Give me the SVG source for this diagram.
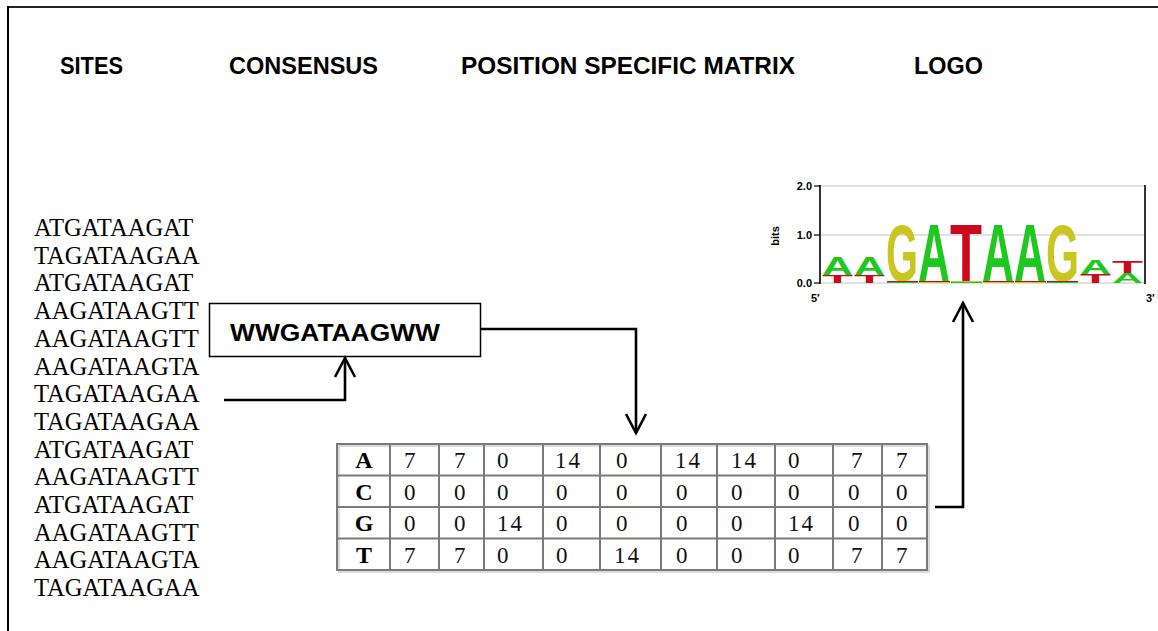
<svg xmlns="http://www.w3.org/2000/svg" width="1158" height="631" viewBox="0 0 1158 631">
<style>
.hdr{font-family:"Liberation Sans",Arial,sans-serif;font-weight:bold;font-size:23px;fill:#000}
.site{font-family:"Liberation Serif","Times New Roman",serif;font-size:24.6px;fill:#000}
.cons{font-family:"Liberation Sans",Arial,sans-serif;font-weight:bold;font-size:24px;fill:#000}
.conn{fill:none;stroke:#000;stroke-width:2.6}
.tline{stroke:#7a7a7a;stroke-width:2;fill:none}
.tshadow{stroke:#d0d0d0;stroke-width:1.5;fill:none}
.rowh{font-family:"Liberation Serif","Times New Roman",serif;font-weight:bold;font-size:24px;fill:#000;text-anchor:middle}
.num{font-family:"Liberation Serif","Times New Roman",serif;font-size:23px;fill:#111;letter-spacing:2px}
.ax{font-family:"Liberation Sans",Arial,sans-serif;font-weight:bold;font-size:11px;fill:#000}
.lg{font-family:"Liberation Sans",Arial,sans-serif;font-weight:bold}
.gA{fill:#1ec81e}.gG{fill:#c9c61f}.gT{fill:#cc0a1e}
.grid{stroke:#c4c4c4;stroke-width:1.2}
</style>
<defs>
<marker id="arr" markerUnits="userSpaceOnUse" markerWidth="40" markerHeight="40" refX="0" refY="0" orient="auto" overflow="visible">
<path d="M-19,-10 L0,0 L-19,10" fill="none" stroke="#000" stroke-width="2.6"/>
</marker>
</defs>
<rect x="0" y="0" width="1158" height="631" fill="#fff"/>
<g id="frame">
<line x1="8" y1="7" x2="1158" y2="7" stroke="#222" stroke-width="2.2"/>
<line x1="8" y1="6" x2="8" y2="631" stroke="#000" stroke-width="2"/>
</g>
<g id="headers">
<text class="hdr" x="60" y="74" textLength="63" lengthAdjust="spacingAndGlyphs">SITES</text>
<text class="hdr" x="229" y="74" textLength="149" lengthAdjust="spacingAndGlyphs">CONSENSUS</text>
<text class="hdr" x="461" y="74" textLength="334" lengthAdjust="spacingAndGlyphs">POSITION SPECIFIC MATRIX</text>
<text class="hdr" x="914" y="74" textLength="69" lengthAdjust="spacingAndGlyphs">LOGO</text>
</g>
<g id="sites">
<text class="site" x="34" y="236">ATGATAAGAT</text>
<text class="site" x="34" y="263.7">TAGATAAGAA</text>
<text class="site" x="34" y="291.4">ATGATAAGAT</text>
<text class="site" x="34" y="319.1">AAGATAAGTT</text>
<text class="site" x="34" y="346.8">AAGATAAGTT</text>
<text class="site" x="34" y="374.5">AAGATAAGTA</text>
<text class="site" x="34" y="402.1">TAGATAAGAA</text>
<text class="site" x="34" y="429.8">TAGATAAGAA</text>
<text class="site" x="34" y="457.5">ATGATAAGAT</text>
<text class="site" x="34" y="485.2">AAGATAAGTT</text>
<text class="site" x="34" y="512.9">ATGATAAGAT</text>
<text class="site" x="34" y="540.6">AAGATAAGTT</text>
<text class="site" x="34" y="568.3">AAGATAAGTA</text>
<text class="site" x="34" y="596">TAGATAAGAA</text>
</g>
<g id="consensus">
<rect x="209.5" y="303.5" width="271" height="53" fill="#fff" stroke="#000" stroke-width="1.5"/>
<text class="cons" x="230" y="341" textLength="210" lengthAdjust="spacingAndGlyphs">WWGATAAGWW</text>
</g>
<g id="matrix">
<rect x="339" y="446" width="590" height="126" class="tshadow"/>
<rect x="337" y="444" width="590" height="126" class="tline" fill="#fff"/>
<g class="tline">
<line x1="337" y1="475.5" x2="927" y2="475.5"/>
<line x1="337" y1="507" x2="927" y2="507"/>
<line x1="337" y1="538.5" x2="927" y2="538.5"/>
<line x1="390" y1="444" x2="390" y2="570"/>
<line x1="439" y1="444" x2="439" y2="570"/>
<line x1="484" y1="444" x2="484" y2="570"/>
<line x1="543" y1="444" x2="543" y2="570"/>
<line x1="600" y1="444" x2="600" y2="570"/>
<line x1="661" y1="444" x2="661" y2="570"/>
<line x1="717" y1="444" x2="717" y2="570"/>
<line x1="775" y1="444" x2="775" y2="570"/>
<line x1="833" y1="444" x2="833" y2="570"/>
<line x1="882" y1="444" x2="882" y2="570"/>
</g>
<text class="rowh" x="364" y="468">A</text>
<text class="rowh" x="364" y="499.5">C</text>
<text class="rowh" x="364" y="531">G</text>
<text class="rowh" x="364" y="562.5">T</text>
<g class="num">
<text x="404" y="468">7</text><text x="454" y="468">7</text><text x="497" y="468">0</text><text x="555" y="468">14</text><text x="616" y="468">0</text><text x="675" y="468">14</text><text x="731" y="468">14</text><text x="788" y="468">0</text><text x="851" y="468">7</text><text x="896" y="468">7</text>
<text x="404" y="499.5">0</text><text x="454" y="499.5">0</text><text x="497" y="499.5">0</text><text x="556" y="499.5">0</text><text x="616" y="499.5">0</text><text x="676" y="499.5">0</text><text x="731" y="499.5">0</text><text x="788" y="499.5">0</text><text x="848" y="499.5">0</text><text x="896" y="499.5">0</text>
<text x="404" y="531">0</text><text x="454" y="531">0</text><text x="497" y="531">14</text><text x="556" y="531">0</text><text x="616" y="531">0</text><text x="676" y="531">0</text><text x="731" y="531">0</text><text x="788" y="531">14</text><text x="848" y="531">0</text><text x="896" y="531">0</text>
<text x="404" y="562.5">7</text><text x="454" y="562.5">7</text><text x="497" y="562.5">0</text><text x="556" y="562.5">0</text><text x="614" y="562.5">14</text><text x="676" y="562.5">0</text><text x="731" y="562.5">0</text><text x="788" y="562.5">0</text><text x="851" y="562.5">7</text><text x="896" y="562.5">7</text>
</g>
</g>
<g id="logo">
<line class="grid" x1="820" y1="186" x2="1145" y2="186"/>
<line class="grid" x1="820" y1="235" x2="1145" y2="235"/>
<line class="grid" x1="820" y1="283" x2="1145" y2="283"/>
<line x1="820" y1="185" x2="820" y2="284" stroke="#000" stroke-width="1.6"/>
<line x1="1145" y1="185" x2="1145" y2="284" stroke="#000" stroke-width="1.6"/>
<line x1="814" y1="186" x2="820" y2="186" stroke="#000" stroke-width="1.2"/>
<line x1="814" y1="235" x2="820" y2="235" stroke="#000" stroke-width="1.2"/>
<line x1="814" y1="283" x2="820" y2="283" stroke="#000" stroke-width="1.2"/>
<text class="ax" x="812" y="190" text-anchor="end">2.0</text>
<text class="ax" x="812" y="239" text-anchor="end">1.0</text>
<text class="ax" x="812" y="287" text-anchor="end">0.0</text>
<text class="ax" x="0" y="0" text-anchor="middle" font-size="9.5" transform="translate(779,236) rotate(-90)">bits</text>
<text class="ax" x="811" y="302">5′</text>
<text class="ax" x="1146" y="302">3′</text>
<text class="lg gA" x="822" y="275" font-size="25.1" textLength="31" lengthAdjust="spacingAndGlyphs">A</text>
<text class="lg gT" x="822" y="283" font-size="11.2" textLength="31" lengthAdjust="spacingAndGlyphs">T</text>
<text class="lg gA" x="854" y="275" font-size="25.1" textLength="31" lengthAdjust="spacingAndGlyphs">A</text>
<text class="lg gT" x="854" y="283" font-size="11.2" textLength="31" lengthAdjust="spacingAndGlyphs">T</text>
<text class="lg gG" x="886" y="281" font-size="80.5" textLength="32" lengthAdjust="spacingAndGlyphs">G</text>
<text class="lg gA" x="918" y="281" font-size="82.4" textLength="32" lengthAdjust="spacingAndGlyphs">A</text>
<text class="lg gT" x="950" y="281" font-size="82.4" textLength="32" lengthAdjust="spacingAndGlyphs">T</text>
<text class="lg gA" x="982" y="281" font-size="82.4" textLength="32" lengthAdjust="spacingAndGlyphs">A</text>
<text class="lg gA" x="1014" y="281" font-size="82.4" textLength="32" lengthAdjust="spacingAndGlyphs">A</text>
<text class="lg gG" x="1046" y="281" font-size="80.5" textLength="33" lengthAdjust="spacingAndGlyphs">G</text>
<rect x="887" y="281" width="31" height="1" class="gT"/><rect x="887" y="282" width="31" height="1" class="gA"/>
<rect x="919" y="281" width="31" height="1" class="gT"/><rect x="919" y="282" width="31" height="1" class="gG"/>
<rect x="951" y="281" width="31" height="1" class="gG"/><rect x="951" y="282" width="31" height="1" class="gA"/>
<rect x="983" y="281" width="31" height="1" class="gT"/><rect x="983" y="282" width="31" height="1" class="gG"/>
<rect x="1015" y="281" width="31" height="1" class="gT"/><rect x="1015" y="282" width="31" height="1" class="gG"/>
<rect x="1047" y="281" width="31" height="1" class="gT"/><rect x="1047" y="282" width="31" height="1" class="gA"/>
<text class="lg gA" x="1080" y="274" font-size="19.6" textLength="31" lengthAdjust="spacingAndGlyphs">A</text>
<text class="lg gT" x="1080" y="283" font-size="12.6" textLength="31" lengthAdjust="spacingAndGlyphs">T</text>
<text class="lg gT" x="1112" y="273" font-size="16.8" textLength="31" lengthAdjust="spacingAndGlyphs">T</text>
<text class="lg gA" x="1112" y="283" font-size="14" textLength="31" lengthAdjust="spacingAndGlyphs">A</text>
</g>
<g id="connectors">
<path class="conn" d="M224,400 H345 V358" marker-end="url(#arr)"/>
<path class="conn" d="M481,329 H636 V433" marker-end="url(#arr)"/>
<path class="conn" d="M935,507 H963 V303" marker-end="url(#arr)"/>
</g>
</svg>
